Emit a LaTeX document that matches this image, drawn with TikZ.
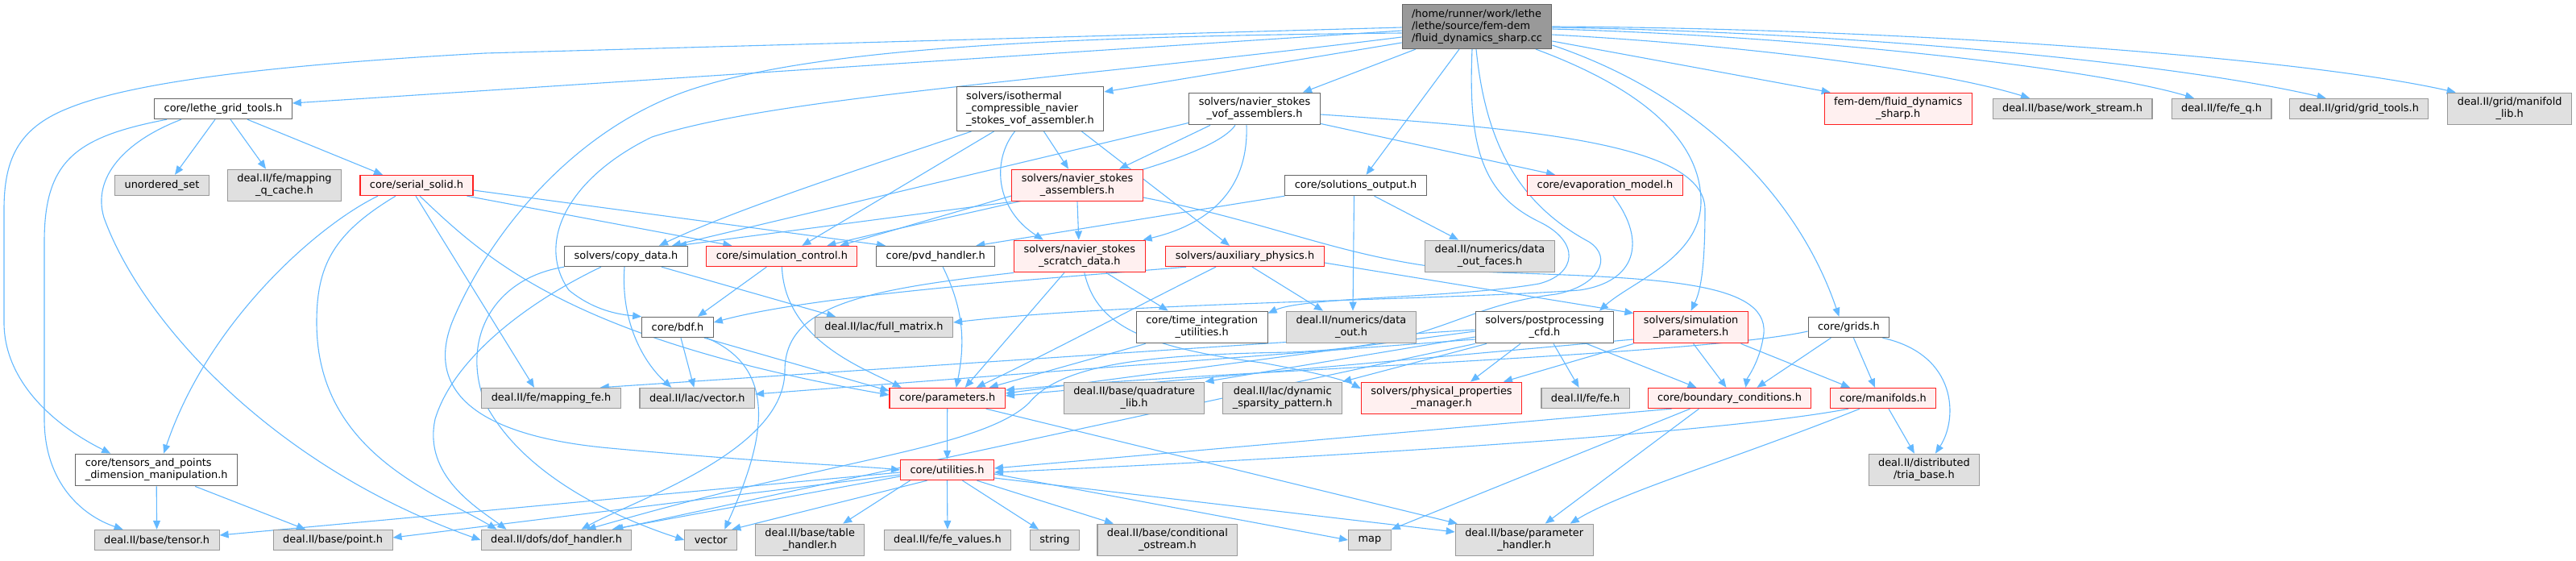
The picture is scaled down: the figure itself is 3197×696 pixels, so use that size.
\documentclass[tikz,border=0pt]{standalone}
\usepackage{fontspec}
\setmainfont{DejaVu Sans}
\usetikzlibrary{arrows.meta}
\pgfdeclarelayer{bg}
\pgfsetlayers{bg,main}
\definecolor{edgec}{HTML}{63B8FF}
\definecolor{bwhite}{HTML}{666666}
\definecolor{bgray}{HTML}{999999}
\definecolor{fgray}{HTML}{E0E0E0}
\definecolor{fred}{HTML}{FFF0F0}
\definecolor{bred}{HTML}{FF2020}
\definecolor{froot}{HTML}{999999}
\newcommand{\fsz}{\fontsize{12.9pt}{15pt}\selectfont}
\tikzset{
  nbox/.style={rectangle, inner xsep=12pt, inner ysep=0pt, line width=1.1pt, font=\fsz, align=center, minimum height=25.3pt, text=black},
  two/.style={minimum height=39.7pt},
  three/.style={minimum height=55pt},
  wn/.style={nbox, draw=bwhite, fill=white},
  gn/.style={nbox, draw=bgray, fill=fgray},
  rn/.style={nbox, draw=bred, fill=fred},
  rootn/.style={nbox, draw=bwhite, fill=froot, align=left, minimum height=55pt},
  e/.style={draw=edgec, line width=1.1pt, -{Triangle[length=11pt,width=9pt]}},
}
\begin{document}
\begin{tikzpicture}[x=1pt,y=-1pt]
\useasboundingbox (0,0) rectangle (3197,696);
% ---------- nodes ----------
\node[rootn] (R) at (1833,33) {/home/runner/work/lethe\\/lethe/source/fem-dem\\/fluid\_dynamics\_sharp.cc};
\node[wn] (LGT) at (277,135) {core/lethe\_grid\_tools.h};
\node[gn] (US) at (201,230) {unordered\_set};
\node[gn,two] (MQC) at (353,230) {deal.II/fe/mapping\\\_q\_cache.h};
\node[rn] (SS) at (517,230) {core/serial\_solid.h};
\node[wn,three,align=left] (ISO) at (1278.5,135) {solvers/isothermal\\\_compressible\_navier\\\_stokes\_vof\_assembler.h};
\node[wn,two] (VOF) at (1557,135) {solvers/navier\_stokes\\\_vof\_assemblers.h};
\node[rn,two] (FDS) at (2355.7,135) {fem-dem/fluid\_dynamics\\\_sharp.h};
\node[gn] (WS) at (2572,135) {deal.II/base/work\_stream.h};
\node[gn] (FEQ) at (2757,135) {deal.II/fe/fe\_q.h};
\node[gn] (GT) at (2927.7,135) {deal.II/grid/grid\_tools.h};
\node[gn,two] (ML) at (3114.7,135) {deal.II/grid/manifold\\\_lib.h};
\node[rn,two] (NSA) at (1337,230) {solvers/navier\_stokes\\\_assemblers.h};
\node[wn] (SO) at (1682.5,230) {core/solutions\_output.h};
\node[rn] (EVM) at (1992,230) {core/evaporation\_model.h};
\node[wn] (CD) at (777,318) {solvers/copy\_data.h};
\node[rn] (SC) at (970.4,318) {core/simulation\_control.h};
\node[wn] (PVD) at (1161.2,318) {core/pvd\_handler.h};
\node[rn,two] (NSD) at (1339.8,318) {solvers/navier\_stokes\\\_scratch\_data.h};
\node[rn] (AUX) at (1545,318) {solvers/auxiliary\_physics.h};
\node[gn,two] (DOFF) at (1849,318) {deal.II/numerics/data\\\_out\_faces.h};
\node[wn] (BDF) at (841,406) {core/bdf.h};
\node[gn] (FM) at (1097,406) {deal.II/lac/full\_matrix.h};
\node[wn,two] (TIU) at (1491.7,406) {core/time\_integration\\\_utilities.h};
\node[gn,two] (DO) at (1677,406) {deal.II/numerics/data\\\_out.h};
\node[wn,two] (PP) at (1917,406) {solvers/postprocessing\\\_cfd.h};
\node[rn,two] (SP) at (2098.6,406) {solvers/simulation\\\_parameters.h};
\node[wn] (GR) at (2294.4,406) {core/grids.h};
\node[gn] (MFE) at (684,494) {deal.II/fe/mapping\_fe.h};
\node[gn] (LV) at (865.3,494) {deal.II/lac/vector.h};
\node[rn] (PAR) at (1175.7,494) {core/parameters.h};
\node[gn,two] (QL) at (1407.6,494) {deal.II/base/quadrature\\\_lib.h};
\node[gn,two] (DSP) at (1591.7,494) {deal.II/lac/dynamic\\\_sparsity\_pattern.h};
\node[rn,two] (PPM) at (1789,494) {solvers/physical\_properties\\\_manager.h};
\node[gn] (FE) at (1967.6,494) {deal.II/fe/fe.h};
\node[rn] (BC) at (2146.5,494) {core/boundary\_conditions.h};
\node[rn] (MAN) at (2337,494) {core/manifolds.h};
\node[wn,two,align=left] (TP) at (194.2,583) {core/tensors\_and\_points\\\_dimension\_manipulation.h};
\node[rn] (UT) at (1175.5,583) {core/utilities.h};
\node[gn,two] (TRIA) at (2387.9,583) {deal.II/distributed\\/tria\_base.h};
\node[gn] (TEN) at (194.6,670) {deal.II/base/tensor.h};
\node[gn] (PT) at (413.1,670) {deal.II/base/point.h};
\node[gn] (DOF) at (690.5,670) {deal.II/dofs/dof\_handler.h};
\node[gn] (VEC) at (882.3,670) {vector};
\node[gn,two] (TH) at (1005.2,670) {deal.II/base/table\\\_handler.h};
\node[gn] (FEV) at (1175.9,670) {deal.II/fe/fe\_values.h};
\node[gn] (STR) at (1309,670) {string};
\node[gn,two] (CO) at (1448.9,670) {deal.II/base/conditional\\\_ostream.h};
\node[gn] (MAP) at (1699.9,670) {map};
\node[gn,two] (PH) at (1891.7,670) {deal.II/base/parameter\\\_handler.h};
% ---------- edges ----------
\begin{pgfonlayer}{bg}
% root
\draw[e] ([yshift=-1pt]R.west) -- (602,66) .. controls (310,82) and (155,105) .. (83,135) .. controls (21,160) and (5,200) .. (5,260) -- (5,400) .. controls (5,470) and (62,525) .. ([xshift=-57pt]TP.north);
\draw[e] ([yshift=-5pt]R.west) -- ([yshift=7pt]LGT.east);
\draw[e] ([yshift=-8pt]R.west) .. controls (1308,45) and (1015,60) .. (861,110) .. controls (706,160) and (602,300) .. (561,400) .. controls (530,480) and (582,540) .. (757,556) .. controls (964,575) and (1067,578) .. (UT.west);
\draw[e] ([yshift=-13pt]R.west) .. controls (1308,100) and (964,120) .. (809,170) .. controls (706,220) and (664,300) .. (706,360) .. controls (737,385) and (767,390) .. (BDF.north west);
\draw[e] ([yshift=-20pt]R.west) -- ([yshift=-7pt]ISO.north east);
\draw[e] ([xshift=-76pt]R.south) -- ([xshift=60pt]VOF.north);
\draw[e] ([xshift=-22pt]R.south) -- ([xshift=13pt]SO.north);
\draw[e] ([xshift=-6pt]R.south) .. controls (1822,180) and (1838,240) .. (1910,275) .. controls (1962,300) and (1957,340) .. (1910,352) .. controls (1807,370) and (1621,368) .. ([yshift=-3pt]TIU.north east);
\draw[e] ([xshift=-1pt]R.south) .. controls (1843,170) and (1879,250) .. (1972,300) .. controls (2003,320) and (1983,355) .. (1931,365) .. controls (1807,380) and (1786,430) .. (1600,437) .. controls (1432,440) and (1318,450) .. (1277,500) .. controls (1236,540) and (1122,560) .. (1015,585) .. controls (892,610) and (788,640) .. ([xshift=38pt]DOF.north);
\draw[e] ([xshift=73pt]R.south) .. controls (2065,120) and (2111,190) .. (2111,250) .. controls (2111,320) and (2024,350) .. ([xshift=68pt]PP.north);
\draw[e] ([yshift=-18pt]R.east) -- ([xshift=-84pt]FDS.north);
\draw[e] ([yshift=-10pt]R.east) .. controls (2150,55) and (2400,85) .. ([xshift=-53pt]WS.north);
\draw[e] ([yshift=-3pt]R.east) .. controls (2250,45) and (2600,85) .. ([xshift=-34pt]FEQ.north);
\draw[e] ([yshift=-1pt]R.east) .. controls (2300,40) and (2700,78) .. ([xshift=-41pt]GT.north);
\draw[e] (R.east) .. controls (2350,35) and (2850,70) .. ([xshift=-67pt]ML.north);
\draw[e] ([yshift=-23pt]R.east) .. controls (2116,120) and (2234,250) .. ([xshift=-12pt]GR.north);
% lethe_grid_tools
\draw[e] ([xshift=-10pt]LGT.south) -- ([xshift=16pt]US.north);
\draw[e] ([xshift=9pt]LGT.south) -- ([xshift=-23pt]MQC.north);
\draw[e] ([xshift=30pt]LGT.south) -- ([xshift=-42pt]SS.north);
\draw[e] ([xshift=-70pt]LGT.south) .. controls (93,170) and (55,200) .. (55,300) -- (55,520) .. controls (55,600) and (103,640) .. ([xshift=-42pt]TEN.north);
\draw[e] ([xshift=-52pt]LGT.south) .. controls (155,175) and (114,220) .. (129,270) .. controls (176,400) and (341,580) .. (DOF.west);
% serial_solid
\draw[e] ([xshift=-48pt]SS.south) .. controls (393,280) and (258,400) .. ([xshift=9pt]TP.north);
\draw[e] ([xshift=-26pt]SS.south) .. controls (413,290) and (393,330) .. (393,400) .. controls (393,560) and (537,610) .. ([xshift=-74pt]DOF.north);
\draw[e] ([xshift=-1pt]SS.south) -- ([xshift=-21pt]MFE.north);
\draw[e] ([xshift=4pt]SS.south) .. controls (602,320) and (706,420) .. ([yshift=4pt]PAR.west);
\draw[e] ([xshift=-8pt]SS.south east) -- ([xshift=-62pt]SC.north);
\draw[e] ([yshift=-6pt]SS.east) -- ([xshift=12pt]PVD.north west);
% tensors_and_points
\draw[e] (TP.south) -- (TEN.north);
\draw[e] ([xshift=48pt]TP.south) -- ([xshift=-34pt]PT.north);
% isothermal
\draw[e] ([xshift=-73pt]ISO.south) .. controls (1067,210) and (912,260) .. ([xshift=41pt]CD.north);
\draw[e] ([xshift=-45pt]ISO.south) -- ([xshift=25pt]SC.north);
\draw[e] ([xshift=-19pt]ISO.south) .. controls (1230,200) and (1236,260) .. ([xshift=-45pt]NSD.north);
\draw[e] ([xshift=17pt]ISO.south) -- ([xshift=-11pt]NSA.north);
\draw[e] ([xshift=64pt]ISO.south) -- ([xshift=-19pt]AUX.north);
% vof assemblers
\draw[e] ([yshift=3pt]VOF.south west) -- ([xshift=57pt]CD.north);
\draw[e] ([xshift=-55pt]VOF.south) -- ([xshift=52pt]NSA.north);
\draw[e] ([xshift=-24pt]VOF.south) .. controls (1494,210) and (1205,260) .. ([xshift=56pt]SC.north);
\draw[e] ([xshift=-10pt]VOF.south) .. controls (1550,240) and (1494,280) .. ([xshift=-3pt]NSD.north east);
\draw[e] ([yshift=2pt]VOF.south east) -- ([xshift=-62pt]EVM.north);
\draw[e] ([yshift=-7pt]VOF.east) .. controls (1910,160) and (2116,180) .. (2116,260) .. controls (2116,330) and (2111,360) .. (SP.north);
% navier_stokes_assemblers
\draw[e] ([yshift=-13pt]NSA.west) -- ([xshift=72pt]SC.north);
\draw[e] (NSA.south west) -- ([xshift=64pt]CD.north);
\draw[e] (NSA.south) -- ([xshift=-1pt]NSD.north);
\draw[e] ([yshift=-15pt]NSA.east) .. controls (1600,280) and (1683,330) .. (1859,338) .. controls (2067,345) and (2203,350) .. (2188,420) .. controls (2183,450) and (2168,470) .. ([xshift=20pt]BC.north);
% solutions_output
\draw[e] (SO.south west) -- ([xshift=50pt]PVD.north);
\draw[e] ([xshift=23pt]SO.south) -- ([xshift=-39pt]DOFF.north);
\draw[e] ([xshift=-2pt]SO.south) -- ([xshift=2pt]DO.north);
% evaporation model
\draw[e] ([xshift=10pt]EVM.south) .. controls (2045,300) and (2030,350) .. (1960,360) .. controls (1800,372) and (1400,375) .. ([yshift=6pt]FM.east);
% scratch data
\draw[e] ([xshift=-19pt]NSD.south) -- ([xshift=22pt]PAR.north);
\draw[e] ([xshift=33pt]NSD.south) -- ([xshift=-42pt]TIU.north);
\draw[e] ([xshift=6pt]NSD.south) .. controls (1360,400) and (1411,430) .. (1566,450) .. controls (1621,460) and (1666,470) .. ([yshift=12pt]PPM.west);
\draw[e] (NSD.south west) .. controls (1067,360) and (974,380) .. (974,460) .. controls (974,560) and (788,620) .. ([xshift=31pt]DOF.north);
% auxiliary physics
\draw[e] ([xshift=-73pt]AUX.south) .. controls (1308,345) and (1015,365) .. ([yshift=6pt]BDF.east);
\draw[e] ([xshift=9pt]AUX.south) -- ([xshift=-35pt]DO.north);
\draw[e] ([yshift=-8pt]AUX.east) -- ([yshift=-3pt]SP.north west);
\draw[e] ([xshift=-36pt]AUX.south) .. controls (1411,380) and (1298,440) .. ([xshift=36pt]PAR.north);
% time integration, pvd
\draw[e] ([xshift=-70pt]TIU.south) -- ([xshift=52pt]PAR.north);
\draw[e] ([xshift=9pt]PVD.south) .. controls (1194,380) and (1199,420) .. ([xshift=11pt]PAR.north);
% simulation control
\draw[e] ([xshift=-19pt]SC.south) -- ([xshift=25pt]BDF.north);
\draw[e] (SC.south) .. controls (974,420) and (1067,455) .. ([xshift=-57pt]PAR.north);
% copy data
\draw[e] ([xshift=-2pt]CD.south) .. controls (770,400) and (799,450) .. ([xshift=-32pt]LV.north);
\draw[e] ([xshift=44pt]CD.south) -- ([xshift=-60pt]FM.north);
\draw[e] (CD.south west) .. controls (613,345) and (571,420) .. (602,500) .. controls (654,600) and (788,650) .. (VEC.west);
\draw[e] ([xshift=-31pt]CD.south) .. controls (644,380) and (561,450) .. (540,520) .. controls (525,590) and (592,630) .. ([xshift=-62pt]DOF.north);
% bdf
\draw[e] ([xshift=4pt]BDF.south) -- ([xshift=-4pt]LV.north);
\draw[e] ([xshift=36pt]BDF.south) .. controls (974,460) and (943,560) .. ([xshift=17pt]VEC.north);
\draw[e] ([xshift=33pt]BDF.south) -- ([yshift=9pt]PAR.west);
% postprocessing
\draw[e] ([xshift=-30pt]PP.south) -- ([xshift=36pt]PPM.north);
\draw[e] ([xshift=11pt]PP.south) -- ([xshift=-8pt]FE.north);
\draw[e] ([xshift=52pt]PP.south) -- ([xshift=-41pt]BC.north);
\draw[e] ([xshift=-72pt]PP.south) -- (DSP.north east);
\draw[e] ([yshift=-12pt]PP.west) -- (QL.north east);
\draw[e] ([yshift=-5pt]PP.west) -- ([yshift=6pt]PAR.east);
\draw[e] ([yshift=-3pt]PP.west) -- ([xshift=-26pt]MFE.north east);
\draw[e] ([yshift=-15pt]PP.west) -- ([yshift=5pt]LV.east);
\draw[e] (PP.south west) -- ([xshift=72pt]DOF.north);
% simulation parameters
\draw[e] ([xshift=3pt]SP.south) -- ([xshift=-4pt]BC.north);
\draw[e] ([xshift=62pt]SP.south) -- ([xshift=-41pt]MAN.north);
\draw[e] (SP.south west) -- ([xshift=77pt]PPM.north);
\draw[e] ([yshift=-15pt]SP.west) -- ([yshift=3pt]PAR.east);
% grids
\draw[e] ([xshift=-22pt]GR.south) -- ([xshift=34pt]BC.north);
\draw[e] ([xshift=6pt]GR.south) -- ([xshift=-10pt]MAN.north);
\draw[e] ([xshift=42pt]GR.south) .. controls (2430,440) and (2430,520) .. ([xshift=14pt]TRIA.north);
\draw[e] ([yshift=-5pt]GR.west) .. controls (2116,440) and (1515,460) .. ([yshift=10pt]PAR.east);
% boundary conditions
\draw[e] ([xshift=-72pt]BC.south) -- ([yshift=2pt]UT.east);
\draw[e] ([xshift=-49pt]BC.south) -- (MAP.north east);
\draw[e] ([xshift=-38pt]BC.south) -- ([xshift=26pt]PH.north);
% manifolds
\draw[e] ([xshift=7pt]MAN.south) -- ([xshift=-12pt]TRIA.north);
\draw[e] ([xshift=-43pt]MAN.south) .. controls (2151,535) and (1704,565) .. ([yshift=-3pt]UT.east);
\draw[e] ([xshift=-29pt]MAN.south) .. controls (2151,570) and (2013,610) .. ([xshift=57pt]PH.north);
% parameters
\draw[e] (PAR.south) -- (UT.north);
\draw[e] ([xshift=48pt]PAR.south) -- ([xshift=-83pt]PH.north);
% utilities
\draw[e] ([yshift=-3pt]UT.west) -- ([yshift=6pt]TEN.east);
\draw[e] ([yshift=-6pt]UT.west) -- ([yshift=3pt]PT.east);
\draw[e] ([yshift=-8pt]UT.west) -- ([xshift=69pt]DOF.north);
\draw[e] ([xshift=-25pt]UT.south) -- ([xshift=26pt]VEC.north);
\draw[e] ([xshift=-46pt]UT.south) -- ([xshift=41pt]TH.north);
\draw[e] (UT.south) -- (FEV.north);
\draw[e] ([xshift=19pt]UT.south) -- ([xshift=-20pt]STR.north);
\draw[e] ([xshift=37pt]UT.south) -- ([xshift=-67pt]CO.north);
\draw[e] ([yshift=-5pt]UT.east) -- (MAP.west);
\draw[e] ([yshift=-10pt]UT.east) -- ([yshift=10pt]PH.west);
\end{pgfonlayer}
\end{tikzpicture}
\end{document}
